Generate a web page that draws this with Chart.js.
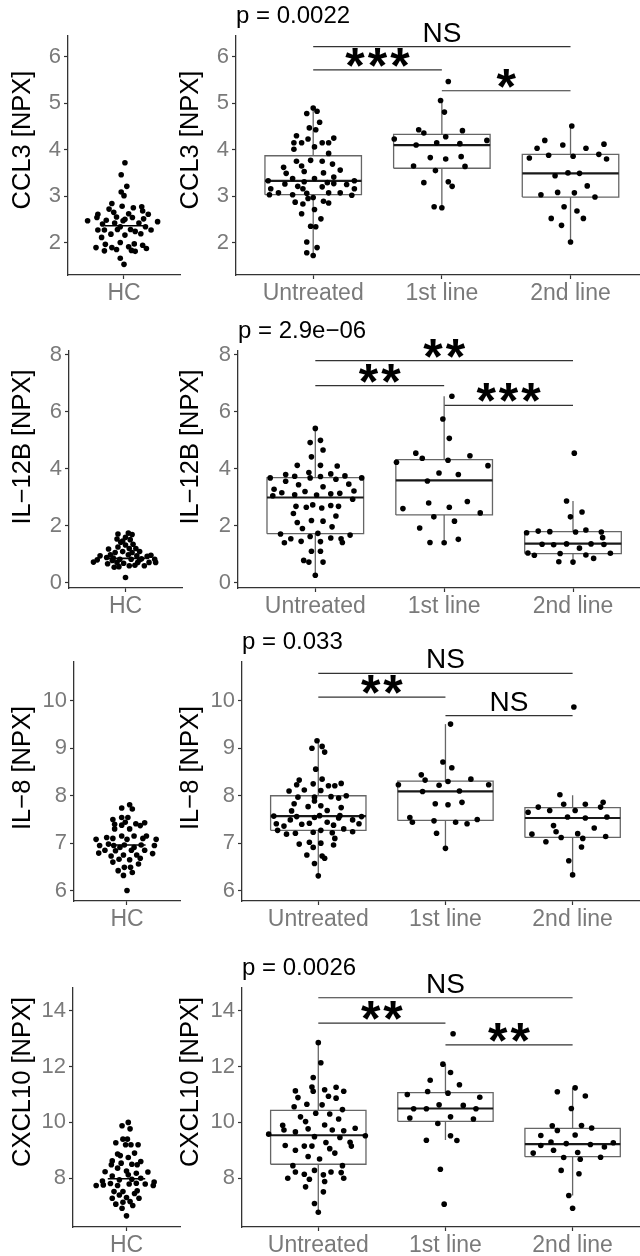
<!DOCTYPE html>
<html lang="en">
<head>
  <meta charset="UTF-8" />
  <title>NPX by treatment line</title>
  <script src="https://cdn.jsdelivr.net/npm/chart.js"></script>
  <style>
    body { margin: 0; background: #fff; }
    #page { position: relative; width: 640px; height: 1256px; overflow: hidden; }
    canvas { position: absolute; }
  </style>
</head>
<body>
  <div id="page"></div>

  <script>
    // ------------------------------------------
    // Data
    // ------------------------------------------
    const CATEGORIES = ['Untreated', '1st line', '2nd line'];
    const HC_CATEGORY = ['HC'];
    const Y_TITLES = ['CCL3 [NPX]', 'IL\u221212B [NPX]', 'IL\u22128 [NPX]', 'CXCL10 [NPX]'];
    const P_LABELS = ['p = 0.0022', 'p = 2.9e\u221206', 'p = 0.033', 'p = 0.0026'];
    const Y_TICKS = [[2, 3, 4, 5, 6], [0, 2, 4, 6, 8], [6, 7, 8, 9, 10], [8, 10, 12, 14]];
    const Y_LIMITS = [[1.3, 6.45], [-0.19, 8.14], [5.78, 10.82], [6.25, 14.82]];
    const HC_MEDIANS = [2.36, 0.85, 6.96, 7.98];

    // box stats per group: [lower whisker, Q1, median, Q3, upper whisker]
    const CCL3_BOXES = [[1.72, 3.03, 3.33, 3.87, 4.90], [2.75, 3.60, 4.10, 4.33, 5.06], [2.01, 2.98, 3.49, 3.90, 4.51]];
    const IL12B_BOXES = [[0.26, 1.72, 2.99, 3.69, 5.42], [1.40, 2.38, 3.59, 4.32, 6.55], [0.72, 1.02, 1.37, 1.79, 2.87]];
    const IL8_BOXES = [[6.31, 7.27, 7.57, 8.00, 9.16], [6.89, 7.48, 8.09, 8.31, 9.51], [6.33, 7.12, 7.53, 7.75, 8.01]];
    const CXCL10_BOXES = [[6.78, 8.50, 9.54, 10.43, 12.86], [9.37, 10.04, 10.50, 11.07, 12.09], [7.38, 8.77, 9.22, 9.79, 11.24]];

    // significance brackets: [from group, to group, height, label]
    const CCL3_SIGNIF = [[1, 3, 6.22, 'NS'], [1, 2, 5.72, '***'], [2, 3, 5.27, '*']];
    const IL12B_SIGNIF = [[1, 3, 7.80, '**'], [1, 2, 6.92, '**'], [2, 3, 6.23, '***']];
    const IL8_SIGNIF = [[1, 3, 10.58, 'NS'], [1, 2, 10.08, '**'], [2, 3, 9.69, 'NS']];
    const CXCL10_SIGNIF = [[1, 3, 14.47, 'NS'], [1, 2, 13.56, '**'], [2, 3, 12.78, '**']];

    // points: [horizontal jitter, value]
    const CCL3_HC = [[0.01,3.72],[-0.03,3.46],[0.03,3.21],[-0.03,3.09],[0,3.01],[-0.13,2.84],[-0.16,2.72],[-0.02,2.78],[0.10,2.75],[0.19,2.77],[-0.11,2.65],[-0.28,2.61],[0.26,2.61],[-0.29,2.54],[-0.08,2.55],[0.05,2.62],[0.20,2.68],[0.09,2.54],[-0.39,2.47],[-0.19,2.48],[-0.01,2.47],[0.01,2.50],[0.21,2.51],[0.36,2.45],[-0.23,2.40],[-0.10,2.42],[0.16,2.42],[-0.07,2.28],[0.07,2.28],[-0.28,2.27],[-0.21,2.27],[-0.04,2.34],[0.12,2.24],[0.29,2.27],[0.23,2.34],[-0.24,2.11],[-0.14,2.18],[0.01,2.16],[0.18,2.19],[-0.20,1.96],[-0.30,1.89],[-0.04,2.00],[0.11,1.97],[0.20,1.94],[-0.13,1.89],[-0.08,1.85],[0.05,1.91],[0.24,1.87],[-0.21,1.82],[0.08,1.83],[0.12,1.81],[-0.04,1.66],[0,1.53]];
    const CCL3_UNTREATED = [[0,4.90],[-0.05,4.78],[0.03,4.83],[0.05,4.59],[-0.03,4.47],[0.02,4.43],[-0.13,4.30],[-0.15,4.15],[-0.09,4.15],[-0.04,4.23],[0.16,4.25],[0.07,4.15],[0.12,4.15],[0.01,4.06],[-0.15,4.01],[0.12,3.92],[-0.13,3.75],[-0.09,3.65],[-0.02,3.77],[0.07,3.75],[-0.23,3.62],[-0.21,3.49],[-0.07,3.53],[0.15,3.69],[0.21,3.56],[0.08,3.50],[0.16,3.41],[-0.16,3.38],[0.01,3.38],[-0.35,3.33],[0.32,3.33],[-0.07,3.31],[-0.22,3.26],[0.11,3.29],[-0.12,3.21],[-0.08,3.16],[0.07,3.20],[0.16,3.27],[0.26,3.25],[-0.33,3.16],[0.32,3.16],[-0.27,3.07],[-0.16,3.03],[-0.05,3.06],[0.12,3.07],[0.21,3.07],[0.30,3.02],[-0.34,3.03],[0,2.97],[-0.04,2.95],[-0.14,2.87],[-0.08,2.83],[0.08,2.89],[0.12,2.85],[0.01,2.71],[-0.09,2.62],[0.06,2.51],[-0.02,2.35],[0.02,2.34],[-0.05,2.01],[0.03,1.89],[-0.05,1.78],[0,1.72]];
    const CCL3_FIRST = [[0.05,5.47],[-0.01,5.06],[0.02,4.81],[-0.18,4.43],[-0.14,4.36],[0.16,4.41],[0.03,4.28],[-0.37,4.23],[0.35,4.20],[-0.04,4.15],[-0.20,4.10],[0.14,4.13],[-0.09,3.83],[0.03,3.80],[0.15,3.85],[-0.22,3.65],[0.18,3.64],[-0.05,3.55],[-0.14,3.29],[0.05,3.31],[0.08,3.21],[-0.06,2.77],[0,2.75]];
    const CCL3_SECOND = [[0.01,4.51],[-0.20,4.20],[-0.26,4.03],[-0.06,4.10],[0.12,4.03],[0.26,4.12],[-0.17,3.88],[0.02,3.86],[0.22,3.90],[-0.32,3.82],[0.28,3.80],[-0.12,3.44],[-0.02,3.50],[0.07,3.49],[0.13,3.22],[-0.23,3.03],[-0.10,3.08],[0.03,3.07],[0.19,2.98],[-0.05,2.77],[0.05,2.68],[-0.15,2.52],[0.10,2.52],[-0.07,2.37],[0,2.01]];

    const IL12B_HC = [[0,0.18],[-0.07,0.56],[-0.12,0.54],[0.04,0.59],[0.10,0.61],[0.20,0.59],[-0.19,0.66],[-0.09,0.71],[-0.02,0.68],[0.13,0.71],[0.25,0.71],[0.32,0.71],[-0.34,0.72],[-0.30,0.80],[0.31,0.82],[-0.20,0.88],[-0.13,0.86],[-0.06,0.82],[0.06,0.82],[0.17,0.84],[-0.27,0.94],[-0.16,0.98],[0.03,0.98],[0.12,0.94],[0.23,0.92],[0.27,0.96],[-0.11,1.06],[-0.03,1.09],[0.07,1.06],[0.15,1.09],[-0.18,1.18],[-0.08,1.25],[0.04,1.20],[0.11,1.20],[0,1.32],[0.08,1.35],[-0.05,1.42],[0.05,1.51],[-0.09,1.53],[0,1.59],[0.07,1.69],[-0.08,1.71],[0.03,1.74],[-0.03,1.46],[-0.14,0.78],[0.15,0.80]];
    const IL12B_UNTREATED = [[0,0.26],[-0.09,0.78],[-0.05,0.72],[0.06,0.72],[-0.03,1.10],[0.04,1.10],[-0.24,1.40],[-0.19,1.54],[-0.11,1.45],[-0.04,1.62],[0.04,1.44],[0.12,1.57],[0.20,1.54],[0.21,1.41],[0.27,1.67],[-0.27,1.71],[0.02,1.73],[-0.10,1.90],[0.13,1.96],[-0.14,2.11],[-0.03,2.18],[0.06,2.16],[-0.17,2.43],[0.16,2.34],[-0.15,2.68],[-0.07,2.65],[-0.02,2.73],[0.05,2.62],[0.12,2.71],[0.18,2.68],[0.29,2.93],[-0.33,3.05],[-0.26,3.16],[-0.16,3.09],[-0.08,3.20],[0.01,3.08],[0.12,3.12],[0.19,3.14],[0.30,3.22],[-0.32,3.28],[-0.13,3.44],[0.06,3.37],[0.26,3.46],[-0.35,3.68],[-0.23,3.56],[-0.04,3.68],[0.04,3.73],[0.16,3.63],[-0.23,3.80],[-0.16,3.74],[0.12,3.82],[0.23,3.75],[0.36,3.68],[-0.05,3.87],[-0.14,4.12],[0.04,4.12],[0.17,4.10],[-0.03,4.42],[0.06,4.66],[-0.04,4.92],[0.04,5.00],[0,5.42]];
    const IL12B_FIRST = [[0.06,6.55],[-0.01,5.75],[0.04,5.07],[-0.22,4.55],[-0.17,4.37],[0.20,4.46],[-0.37,4.23],[0.03,4.30],[0.34,4.11],[-0.04,3.85],[0.11,3.80],[-0.13,3.57],[-0.12,2.80],[0.18,2.85],[-0.32,2.60],[0.04,2.65],[0.28,2.45],[-0.08,2.31],[0.08,2.16],[-0.19,1.92],[-0.11,1.41],[0,1.40],[0.11,1.52]];
    const IL12B_SECOND = [[0.01,4.55],[-0.05,2.87],[0.07,2.48],[-0.02,2.31],[-0.36,1.75],[-0.27,1.81],[-0.18,1.79],[0.02,1.78],[0.10,1.85],[0.22,1.78],[0.23,1.58],[-0.24,1.35],[-0.15,1.33],[-0.05,1.36],[0.05,1.21],[0.14,1.36],[0.24,1.34],[-0.35,1.04],[-0.30,0.96],[-0.10,1.02],[0.10,0.97],[0.29,1.03],[0.16,0.85],[-0.11,0.73],[0,0.72]];

    const IL8_HC = [[0,6.00],[-0.04,6.32],[-0.10,6.42],[0.06,6.38],[-0.03,6.49],[0.04,6.49],[-0.16,6.60],[0.13,6.56],[-0.09,6.66],[0.03,6.65],[0.15,6.68],[-0.18,6.73],[-0.04,6.75],[0.11,6.75],[-0.32,6.79],[-0.25,6.85],[-0.13,6.84],[0.05,6.85],[0.20,6.85],[0.29,6.78],[-0.08,6.91],[-0.03,6.96],[0.08,6.91],[-0.31,6.95],[0.31,6.95],[-0.21,6.98],[-0.15,6.95],[0.16,6.96],[-0.35,7.08],[0.33,7.08],[-0.23,7.12],[-0.16,7.10],[0,7.08],[0.08,7.15],[0.18,7.10],[0.22,7.15],[-0.06,7.15],[-0.14,7.30],[0.03,7.30],[-0.06,7.38],[0.10,7.41],[0.15,7.37],[0.20,7.43],[-0.14,7.40],[-0.02,7.44],[-0.16,7.50],[0.01,7.54],[-0.06,7.74],[0.06,7.72],[0.03,7.81],[-0.06,7.54]];
    const IL8_UNTREATED = [[0,6.31],[-0.03,6.57],[-0.09,6.75],[0.03,6.73],[0.05,6.68],[0.12,6.96],[-0.15,6.98],[-0.04,6.91],[0.02,7.00],[-0.07,7.02],[0.13,7.10],[-0.25,7.19],[-0.18,7.21],[-0.04,7.23],[0.02,7.27],[0.11,7.22],[-0.32,7.27],[0.27,7.24],[-0.33,7.41],[-0.27,7.36],[-0.13,7.40],[-0.07,7.42],[0.07,7.44],[0.12,7.38],[0.20,7.30],[0.32,7.41],[-0.22,7.49],[0.16,7.53],[0.27,7.49],[-0.35,7.57],[-0.17,7.56],[-0.03,7.54],[0.01,7.58],[0.17,7.58],[0.34,7.56],[-0.21,7.68],[-0.08,7.77],[0.07,7.69],[0.18,7.75],[-0.19,7.83],[-0.03,7.89],[0.02,7.79],[-0.16,7.97],[0.10,7.98],[0.16,7.95],[0.22,8.00],[-0.03,7.97],[-0.23,8.10],[-0.11,8.12],[0.02,8.11],[-0.17,8.23],[-0.15,8.33],[-0.04,8.25],[0.03,8.35],[0.08,8.21],[0.13,8.21],[0.18,8.26],[-0.02,8.56],[-0.05,9.00],[0.03,9.04],[0.05,8.92],[-0.01,9.16]];
    const IL8_FIRST = [[0.04,9.51],[-0.02,8.71],[0.05,8.59],[-0.19,8.44],[-0.16,8.33],[0.02,8.30],[0.20,8.35],[-0.37,8.23],[-0.05,8.22],[0.34,8.23],[-0.18,8.09],[0.11,8.10],[-0.08,7.83],[0.02,7.81],[0.13,7.86],[-0.28,7.54],[-0.26,7.44],[-0.09,7.47],[0.08,7.44],[0.17,7.41],[0.25,7.50],[-0.07,7.21],[0,6.89]];
    const IL8_SECOND = [[0.01,9.87],[-0.10,8.02],[-0.27,7.76],[-0.07,7.82],[0.10,7.82],[0.24,7.86],[0.22,7.76],[-0.35,7.65],[-0.18,7.69],[0.02,7.69],[-0.04,7.55],[0.10,7.53],[0.27,7.55],[-0.15,7.37],[0.17,7.32],[-0.13,7.24],[-0.32,7.19],[0.04,7.20],[-0.09,7.12],[0.08,7.10],[0.26,7.14],[-0.21,7.03],[0.07,6.92],[-0.03,6.63],[0,6.33]];

    const CXCL10_HC = [[0,6.65],[-0.05,6.92],[0.07,7.02],[-0.12,7.07],[-0.04,7.14],[0.04,7.16],[-0.16,7.28],[0,7.31],[0.14,7.28],[-0.08,7.40],[0.09,7.45],[-0.14,7.52],[-0.04,7.52],[0.12,7.55],[-0.34,7.74],[-0.26,7.76],[0.30,7.74],[0.31,7.86],[-0.18,7.81],[-0.10,7.74],[0.03,7.79],[0.11,7.82],[0.21,7.79],[-0.27,7.90],[-0.08,7.94],[0.06,7.96],[0.16,8.00],[-0.16,8.08],[0.02,8.12],[0.11,8.18],[0.24,8.22],[-0.24,8.23],[-0.10,8.36],[0,8.26],[-0.17,8.48],[-0.06,8.54],[0.06,8.50],[0.12,8.48],[0.16,8.60],[-0.16,8.62],[0.02,8.74],[-0.10,8.87],[-0.07,8.81],[0.09,8.90],[-0.12,9.27],[0.05,9.20],[0.13,9.20],[-0.04,9.40],[0.01,9.40],[-0.01,9.20],[-0.05,9.88],[0.04,9.77],[0.02,10.00]];
    const CXCL10_UNTREATED = [[0,6.78],[-0.03,7.09],[0.04,7.51],[-0.10,7.69],[-0.07,7.96],[0.05,7.88],[-0.24,8.00],[0.20,8.00],[-0.11,8.14],[-0.18,8.22],[-0.03,8.28],[0.04,8.12],[0.10,8.22],[0.18,8.20],[-0.20,8.45],[0.19,8.45],[-0.08,8.78],[0.01,8.69],[-0.18,9.00],[0.13,8.90],[-0.11,9.15],[0.09,9.06],[-0.26,9.17],[-0.05,9.15],[0.06,9.28],[0.25,9.29],[0.26,9.15],[-0.39,9.58],[-0.03,9.49],[0.17,9.46],[0.37,9.52],[-0.18,9.66],[-0.08,9.77],[0.11,9.73],[0.20,9.70],[0.29,9.79],[-0.27,9.73],[-0.28,9.90],[0.05,9.91],[-0.10,10.03],[-0.14,10.20],[0.16,10.12],[0.09,10.30],[-0.02,10.33],[0.19,10.46],[-0.19,10.56],[-0.09,10.65],[0.03,10.63],[-0.16,10.89],[0.08,10.94],[0.14,10.87],[-0.18,11.13],[-0.05,11.27],[-0.04,11.12],[0.05,11.17],[0.14,11.26],[0.20,11.12],[-0.04,11.61],[0.02,12.14],[0,12.86]];
    const CXCL10_FIRST = [[0.06,13.18],[-0.02,12.09],[0.04,11.79],[-0.12,11.51],[0.11,11.35],[-0.14,11.11],[0.02,11.05],[-0.30,11.00],[0.27,10.90],[-0.05,10.63],[0.14,10.61],[-0.25,10.49],[-0.15,10.49],[0.24,10.49],[-0.28,10.16],[0.04,10.20],[0.22,10.12],[-0.06,9.96],[-0.15,9.36],[0.04,9.52],[0.09,9.35],[-0.04,8.32],[-0.01,7.07]];
    const CXCL10_SECOND = [[0.02,11.24],[-0.12,11.10],[0.10,10.95],[-0.01,10.50],[-0.16,9.88],[0.07,9.89],[0.15,9.80],[-0.12,9.71],[-0.25,9.53],[0.02,9.55],[-0.17,9.30],[-0.05,9.24],[0.14,9.21],[0.32,9.27],[0.25,9.12],[-0.25,9.17],[-0.31,8.90],[-0.15,9.00],[0.04,8.92],[-0.07,8.74],[0.06,8.68],[0.22,8.75],[-0.09,8.28],[0.05,8.16],[-0.03,7.38],[0,6.92]];

    const HC_POINTS = [CCL3_HC, IL12B_HC, IL8_HC, CXCL10_HC];
    const GROUP_POINTS = [
      [CCL3_UNTREATED, CCL3_FIRST, CCL3_SECOND],
      [IL12B_UNTREATED, IL12B_FIRST, IL12B_SECOND],
      [IL8_UNTREATED, IL8_FIRST, IL8_SECOND],
      [CXCL10_UNTREATED, CXCL10_FIRST, CXCL10_SECOND]
    ];
    const BOXES = [CCL3_BOXES, IL12B_BOXES, IL8_BOXES, CXCL10_BOXES];
    const SIGNIF = [CCL3_SIGNIF, IL12B_SIGNIF, IL8_SIGNIF, CXCL10_SIGNIF];

    // ------------------------------------------
    // Layout & style
    // ------------------------------------------
    const FONT = '"Liberation Sans", Arial, Helvetica, sans-serif';
    const TICK_GREY = '#7a7a7a';
    const AXIS_COL = '#333333';
    const BOX_COL = '#666666';
    const BOX_HALF = 0.375;
    const HC_MEDIAN_HALF = 0.21;
    const TITLE_SIZE = 25.5;

    // page geometry per row: canvas top/height, plot area top/bottom, plot area left edges,
    // and the vertical centre of the y-axis titles
    const ROWS = [
      { top: 0,   height: 310, areaTop: 36,  areaBottom: 275,  hcLeft: 68, hcRight: 180, grpLeft: 236, grpMax: 3.54, titleY: 140 },
      { top: 310, height: 315, areaTop: 351, areaBottom: 588,  hcLeft: 69, hcRight: 182, grpLeft: 238, grpMax: 3.52, titleY: 447 },
      { top: 625, height: 310, areaTop: 662, areaBottom: 901,  hcLeft: 74, hcRight: 180, grpLeft: 242, grpMax: 3.53, titleY: 768 },
      { top: 935, height: 321, areaTop: 988, areaBottom: 1227, hcLeft: 73, hcRight: 180, grpLeft: 242, grpMax: 3.53, titleY: 1082 }
    ];
    const HC_CANVAS = { left: 0, width: 186, titleX: 22.5 };
    const GRP_CANVAS = { left: 176, width: 464, titleX: 191 };

    // ------------------------------------------
    // Helpers
    // ------------------------------------------
    function pointSet(points, cat) {
      return {
        data: points.map(([j, v]) => ({ x: cat + j, y: v })),
        showLine: false,
        pointRadius: 2.8,
        pointBackgroundColor: '#000',
        pointBorderWidth: 0,
        pointHoverRadius: 0
      };
    }

    function lineSet(coords, color, width) {
      return {
        data: coords.map(([x, y]) => ({ x, y })),
        showLine: true,
        borderColor: color,
        borderWidth: width,
        pointRadius: 0,
        fill: false,
        tension: 0
      };
    }

    // y title (placed like the original), p value and significance labels
    function textPlugin(title, titleX, titleY, pLabel, brackets) {
      return {
        id: 'panelText',
        afterDatasetsDraw(chart) {
          const { ctx, chartArea, scales } = chart;
          ctx.save();
          ctx.fillStyle = '#000';

          ctx.save();
          ctx.translate(titleX, titleY);
          ctx.rotate(-Math.PI / 2);
          ctx.font = TITLE_SIZE + 'px ' + FONT;
          ctx.textAlign = 'center';
          ctx.textBaseline = 'middle';
          ctx.fillText(title, 0, 0);
          ctx.restore();

          if (pLabel) {
            ctx.font = '24px ' + FONT;
            ctx.textAlign = 'left';
            ctx.textBaseline = 'alphabetic';
            ctx.fillText(pLabel, chartArea.left, chartArea.top - 13);
          }
          (brackets || []).forEach(([a, b, h, label]) => {
            const stars = label.indexOf('*') >= 0;
            ctx.font = (stars ? 'bold 50px ' : '28px ') + FONT;
            ctx.letterSpacing = stars ? '3px' : '0px';
            ctx.textAlign = 'center';
            ctx.textBaseline = 'alphabetic';
            const m = ctx.measureText(label);
            const gap = stars ? 3 : 5;
            const x = scales.x.getPixelForValue((a + b) / 2) + (stars ? 1.5 : 0);
            const y = scales.y.getPixelForValue(h) - gap - m.actualBoundingBoxDescent;
            ctx.fillText(label, x, y);
          });
          ctx.restore();
        }
      };
    }

    function makeChart(canvas, cfg) {
      const { labels, xMin, xMax, yLim, yTicks, yWidth, xHeight, padTop, padRight, datasets, plugin } = cfg;
      return new Chart(canvas.getContext('2d'), {
        type: 'scatter',
        data: { datasets },
        options: {
          responsive: false,
          animation: false,
          events: [],
          layout: { autoPadding: false, padding: { top: padTop, right: padRight, left: 0, bottom: 0 } },
          plugins: { legend: { display: false }, tooltip: { enabled: false } },
          scales: {
            x: {
              type: 'linear',
              min: xMin,
              max: xMax,
              afterBuildTicks: s => { s.ticks = labels.map((_, i) => ({ value: i + 1 })); },
              afterFit: s => { s.height = xHeight; },
              ticks: {
                callback: v => labels[Math.round(v) - 1],
                autoSkip: false,
                maxRotation: 0,
                color: TICK_GREY,
                font: { family: FONT, size: 23 },
                padding: 1
              },
              grid: { display: true, drawOnChartArea: false, drawTicks: true, tickLength: 4, tickColor: AXIS_COL, tickWidth: 1.2 },
              border: { display: true, color: AXIS_COL, width: 1.3 }
            },
            y: {
              type: 'linear',
              min: yLim[0],
              max: yLim[1],
              afterBuildTicks: s => { s.ticks = yTicks.map(v => ({ value: v })); },
              afterFit: s => { s.width = yWidth; },
              ticks: {
                callback: v => String(v),
                autoSkip: false,
                color: TICK_GREY,
                font: { family: FONT, size: 22 },
                padding: 3
              },
              grid: { display: true, drawOnChartArea: false, drawTicks: true, tickLength: 4, tickColor: AXIS_COL, tickWidth: 1.2 },
              border: { display: true, color: AXIS_COL, width: 1.3 }
            }
          }
        },
        plugins: [plugin]
      });
    }

    function addCanvas(left, top, width, height) {
      const c = document.createElement('canvas');
      c.width = width;
      c.height = height;
      c.style.left = left + 'px';
      c.style.top = top + 'px';
      c.style.width = width + 'px';
      c.style.height = height + 'px';
      document.getElementById('page').appendChild(c);
      return c;
    }

    // ------------------------------------------
    // Build the 4 rows
    // ------------------------------------------
    ROWS.forEach((row, r) => {
      // healthy controls panel
      const hcSets = [
        pointSet(HC_POINTS[r], 1),
        lineSet([[1 - HC_MEDIAN_HALF, HC_MEDIANS[r]], [1 + HC_MEDIAN_HALF, HC_MEDIANS[r]]], '#000', 1.6)
      ];
      makeChart(addCanvas(HC_CANVAS.left, row.top, HC_CANVAS.width, row.height), {
        labels: HC_CATEGORY,
        xMin: 0.4, xMax: 1.6,
        yLim: Y_LIMITS[r], yTicks: Y_TICKS[r],
        yWidth: row.hcLeft - HC_CANVAS.left,
        xHeight: row.top + row.height - row.areaBottom,
        padTop: row.areaTop - row.top,
        padRight: HC_CANVAS.left + HC_CANVAS.width - row.hcRight,
        datasets: hcSets,
        plugin: textPlugin(Y_TITLES[r], HC_CANVAS.titleX - HC_CANVAS.left, row.titleY - row.top, null, [])
      });

      // treatment groups panel
      const sets = [];
      GROUP_POINTS[r].forEach((pts, g) => sets.push(pointSet(pts, g + 1)));
      BOXES[r].forEach(([lo, q1, med, q3, hi], g) => {
        const c = g + 1;
        sets.push(lineSet([[c - BOX_HALF, med], [c + BOX_HALF, med]], '#1a1a1a', 2.2));
        sets.push(lineSet([[c - BOX_HALF, q1], [c + BOX_HALF, q1], [c + BOX_HALF, q3], [c - BOX_HALF, q3], [c - BOX_HALF, q1]], BOX_COL, 1.3));
        sets.push(lineSet([[c, lo], [c, q1]], BOX_COL, 1.3));
        sets.push(lineSet([[c, q3], [c, hi]], BOX_COL, 1.3));
      });
      SIGNIF[r].forEach(([a, b, h]) => sets.push(lineSet([[a, h], [b, h]], AXIS_COL, 1.2)));

      makeChart(addCanvas(GRP_CANVAS.left, row.top, GRP_CANVAS.width, row.height), {
        labels: CATEGORIES,
        xMin: 0.4, xMax: row.grpMax,
        yLim: Y_LIMITS[r], yTicks: Y_TICKS[r],
        yWidth: row.grpLeft - GRP_CANVAS.left,
        xHeight: row.top + row.height - row.areaBottom,
        padTop: row.areaTop - row.top,
        padRight: 0,
        datasets: sets,
        plugin: textPlugin(Y_TITLES[r], GRP_CANVAS.titleX - GRP_CANVAS.left, row.titleY - row.top, P_LABELS[r], SIGNIF[r])
      });
    });
  </script>
</body>
</html>
